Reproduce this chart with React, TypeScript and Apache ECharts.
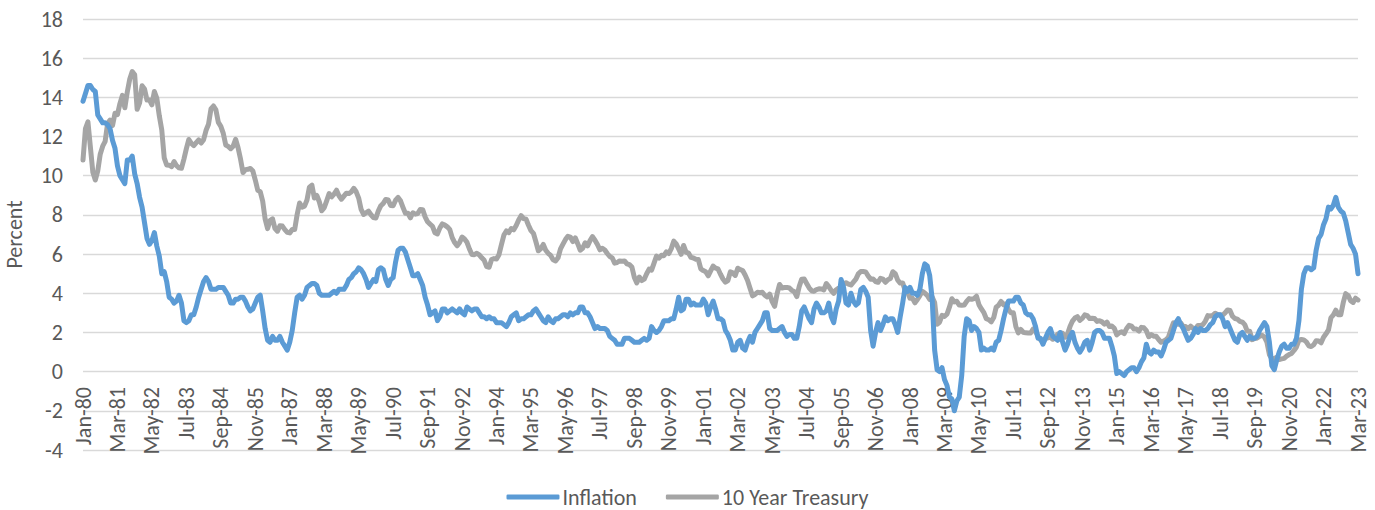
import React, { useEffect, useRef } from "react";
import * as echarts from "echarts";

const MONTHS = ["Jan", "Feb", "Mar", "Apr", "May", "Jun", "Jul", "Aug", "Sep", "Oct", "Nov", "Dec"];
const FIRST_YEAR = 1980;
const LAST_YEAR = 2023;
const LAST_MONTHS = 3;

const categories: string[] = [];
for (let y = FIRST_YEAR; y <= LAST_YEAR; y++) {
  const n = y === LAST_YEAR ? LAST_MONTHS : 12;
  for (let m = 0; m < n; m++) {
    categories.push(`${MONTHS[m]}-${String(y % 100).padStart(2, "0")}`);
  }
}

const Y_TICKS = { min: -4, max: 18, interval: 2 };

// CPI year-over-year inflation, percent (monthly)
const inflation: number[] = [
  13.8, 14.2, 14.6, 14.6, 14.4, 14.3, 13.1, 12.9, 12.7, 12.7, 12.6, 12.4,
  11.8, 11.4, 10.5, 10.0, 9.8, 9.6, 10.8, 10.8, 11.0, 10.1, 9.6, 8.9,
  8.4, 7.6, 6.8, 6.5, 6.7, 7.1, 6.4, 5.9, 5.0, 5.1, 4.6, 3.8,
  3.7, 3.5, 3.6, 3.9, 3.5, 2.6, 2.5, 2.6, 2.9, 2.9, 3.3, 3.8,
  4.2, 4.6, 4.8, 4.6, 4.2, 4.2, 4.2, 4.3, 4.3, 4.3, 4.1, 3.9,
  3.5, 3.5, 3.7, 3.7, 3.8, 3.8, 3.6, 3.3, 3.1, 3.2, 3.5, 3.8,
  3.9, 3.1, 2.2, 1.6, 1.5, 1.8, 1.6, 1.6, 1.8, 1.5, 1.3, 1.1,
  1.5, 2.1, 3.0, 3.8, 3.9, 3.7, 3.9, 4.3, 4.4, 4.5, 4.5, 4.4,
  4.0, 3.9, 3.9, 3.9, 3.9, 4.0, 4.1, 4.0, 4.2, 4.2, 4.2, 4.4,
  4.7, 4.8, 5.0, 5.1, 5.3, 5.2, 5.0, 4.7, 4.3, 4.5, 4.7, 4.6,
  5.2, 5.3, 5.2, 4.7, 4.4, 4.7, 4.8, 5.6, 6.2, 6.3, 6.3, 6.1,
  5.7, 5.3, 4.9, 4.9, 5.0, 4.7, 4.4, 3.8, 3.4, 2.9, 3.0, 3.1,
  2.6, 2.8, 3.2, 3.2, 3.0, 3.1, 3.2, 3.1, 3.0, 3.2, 3.0, 2.9,
  3.3, 3.2, 3.1, 3.2, 3.2, 3.0, 2.8, 2.8, 2.7, 2.8, 2.7, 2.7,
  2.5, 2.5, 2.5, 2.4, 2.3, 2.5, 2.8, 2.9, 3.0, 2.6, 2.7, 2.7,
  2.8, 2.9, 2.9, 3.1, 3.2, 3.0, 2.8, 2.6, 2.5, 2.8, 2.6, 2.5,
  2.7, 2.7, 2.8, 2.9, 2.9, 2.8, 3.0, 2.9, 3.0, 3.0, 3.3, 3.3,
  3.0, 3.0, 2.8, 2.5, 2.2, 2.3, 2.2, 2.2, 2.2, 2.1, 1.8, 1.7,
  1.6, 1.4, 1.4, 1.4, 1.7, 1.7, 1.7, 1.6, 1.5, 1.5, 1.5, 1.6,
  1.7, 1.6, 1.7, 2.3, 2.1, 2.0, 2.1, 2.3, 2.6, 2.6, 2.6, 2.7,
  2.7, 3.2, 3.8, 3.1, 3.2, 3.7, 3.7, 3.4, 3.5, 3.4, 3.4, 3.4,
  3.7, 3.5, 2.9, 3.3, 3.6, 3.2, 2.7, 2.7, 2.6, 2.1, 1.9, 1.6,
  1.1, 1.1, 1.5, 1.6, 1.2, 1.1, 1.5, 1.8, 1.5, 2.0, 2.2, 2.4,
  2.6, 3.0, 3.0, 2.2, 2.1, 2.1, 2.1, 2.2, 2.3, 2.0, 1.8, 1.9,
  1.9, 1.7, 1.7, 2.3, 3.1, 3.3, 3.0, 2.7, 2.5, 3.2, 3.5, 3.3,
  3.0, 3.0, 3.1, 3.5, 2.8, 2.5, 3.2, 3.6, 4.7, 4.3, 3.5, 3.4,
  4.0, 3.6, 3.4, 3.5, 4.2, 4.3, 4.1, 3.8, 2.1, 1.3, 2.0, 2.5,
  2.1, 2.4, 2.8, 2.6, 2.7, 2.7, 2.4, 2.0, 2.8, 3.5, 4.3, 4.1,
  4.3, 4.0, 4.0, 3.9, 4.2, 5.0, 5.5, 5.4, 4.9, 3.7, 1.1, 0.1,
  0.0, 0.2, -0.4, -0.7, -1.3, -1.4, -2.0, -1.5, -1.3, -0.2, 1.8, 2.7,
  2.6, 2.1, 2.3, 2.2, 2.0, 1.1, 1.2, 1.1, 1.1, 1.2, 1.1, 1.5,
  1.6, 2.1, 2.7, 3.2, 3.6, 3.6, 3.6, 3.8, 3.8, 3.5, 3.4, 3.0,
  2.9, 2.9, 2.7, 2.3, 1.7, 1.7, 1.4, 1.7, 2.0, 2.2, 1.8, 1.7,
  1.6, 2.0, 1.5, 1.1, 1.4, 1.8, 2.0, 1.5, 1.2, 1.0, 1.2, 1.5,
  1.6, 1.1, 1.5, 2.0, 2.1, 2.1, 2.0, 1.7, 1.7, 1.7, 1.3, 0.8,
  -0.1, 0.0, -0.1, -0.2, 0.0, 0.1, 0.2, 0.2, 0.0, 0.2, 0.5, 0.7,
  1.4, 1.0, 0.9, 1.1, 1.0, 1.0, 0.8, 1.1, 1.5, 1.6, 1.7, 2.1,
  2.5, 2.7, 2.4, 2.2, 1.9, 1.6, 1.7, 1.9, 2.2, 2.0, 2.2, 2.1,
  2.1, 2.2, 2.4, 2.5, 2.8, 2.9, 2.9, 2.7, 2.3, 2.5, 2.2, 1.9,
  1.6, 1.5, 1.9, 2.0, 1.8, 1.6, 1.8, 1.7, 1.7, 1.8, 2.1, 2.3,
  2.5, 2.3, 1.5, 0.3, 0.1, 0.6, 1.0, 1.3, 1.4, 1.2, 1.2, 1.4,
  1.4, 1.7, 2.6, 4.2, 5.0, 5.3, 5.3, 5.2, 5.3, 6.2, 6.8, 7.0,
  7.5, 7.8, 8.4, 8.3, 8.5, 8.9, 8.4, 8.2, 8.1, 7.7, 7.1, 6.5,
  6.3, 6.0, 5.0,
];

// 10-year Treasury constant maturity yield, percent (monthly average)
const treasury10y: number[] = [
  10.80, 12.41, 12.75, 11.47, 10.18, 9.78, 10.25, 11.10, 11.51, 11.75, 12.68, 12.84,
  12.57, 13.19, 13.12, 13.68, 14.10, 13.47, 14.28, 14.94, 15.32, 15.15, 13.39, 13.72,
  14.59, 14.43, 13.86, 13.87, 13.62, 14.30, 13.95, 13.06, 12.34, 10.91, 10.55, 10.54,
  10.46, 10.72, 10.51, 10.40, 10.38, 10.85, 11.38, 11.85, 11.65, 11.54, 11.69, 11.83,
  11.67, 11.84, 12.32, 12.63, 13.41, 13.56, 13.36, 12.72, 12.52, 12.16, 11.57, 11.50,
  11.38, 11.51, 11.86, 11.43, 10.85, 10.16, 10.31, 10.33, 10.37, 10.24, 9.78, 9.26,
  9.19, 8.70, 7.78, 7.30, 7.71, 7.80, 7.30, 7.17, 7.45, 7.43, 7.25, 7.11,
  7.08, 7.25, 7.25, 8.02, 8.61, 8.40, 8.45, 8.76, 9.42, 9.52, 8.86, 8.99,
  8.67, 8.21, 8.37, 8.72, 9.09, 8.92, 9.06, 9.26, 8.98, 8.80, 8.96, 9.11,
  9.09, 9.17, 9.36, 9.18, 8.86, 8.28, 8.02, 8.11, 8.19, 8.01, 7.87, 7.84,
  8.21, 8.47, 8.59, 8.79, 8.76, 8.48, 8.47, 8.75, 8.89, 8.72, 8.39, 8.08,
  8.09, 7.85, 8.11, 8.04, 8.07, 8.28, 8.27, 7.90, 7.65, 7.53, 7.42, 7.09,
  7.03, 7.34, 7.54, 7.48, 7.39, 7.26, 6.84, 6.59, 6.42, 6.59, 6.87, 6.77,
  6.60, 6.26, 5.98, 5.97, 6.04, 5.96, 5.81, 5.68, 5.36, 5.33, 5.72, 5.77,
  5.75, 5.97, 6.48, 6.97, 7.18, 7.10, 7.30, 7.24, 7.46, 7.74, 7.96, 7.81,
  7.78, 7.47, 7.20, 7.06, 6.63, 6.17, 6.28, 6.49, 6.20, 6.04, 5.93, 5.71,
  5.65, 5.81, 6.27, 6.51, 6.74, 6.91, 6.87, 6.64, 6.83, 6.53, 6.20, 6.30,
  6.58, 6.42, 6.69, 6.89, 6.71, 6.49, 6.22, 6.30, 6.21, 6.03, 5.88, 5.81,
  5.54, 5.57, 5.65, 5.64, 5.65, 5.50, 5.46, 5.34, 4.81, 4.53, 4.83, 4.65,
  4.72, 5.00, 5.23, 5.18, 5.54, 5.90, 5.79, 5.94, 5.92, 6.11, 6.03, 6.28,
  6.66, 6.52, 6.26, 5.99, 6.44, 6.10, 6.05, 5.83, 5.80, 5.74, 5.72, 5.24,
  5.16, 5.10, 4.89, 5.14, 5.39, 5.28, 5.24, 4.97, 4.73, 4.57, 4.65, 5.09,
  5.04, 4.91, 5.28, 5.21, 5.16, 4.93, 4.65, 4.26, 3.87, 3.94, 4.05, 4.03,
  4.05, 3.90, 3.81, 3.96, 3.57, 3.33, 3.98, 4.45, 4.27, 4.29, 4.30, 4.27,
  4.15, 4.08, 3.83, 4.35, 4.72, 4.73, 4.50, 4.28, 4.13, 4.10, 4.19, 4.23,
  4.22, 4.17, 4.50, 4.34, 4.14, 4.00, 4.18, 4.26, 4.20, 4.46, 4.54, 4.47,
  4.42, 4.57, 4.72, 4.99, 5.11, 5.11, 5.09, 4.88, 4.72, 4.73, 4.60, 4.56,
  4.76, 4.72, 4.56, 4.69, 4.75, 5.10, 5.00, 4.67, 4.52, 4.53, 4.15, 4.10,
  3.74, 3.74, 3.51, 3.68, 3.88, 4.10, 4.01, 3.89, 3.69, 3.81, 3.53, 2.42,
  2.52, 2.87, 2.82, 2.93, 3.29, 3.72, 3.56, 3.59, 3.40, 3.39, 3.40, 3.59,
  3.73, 3.69, 3.73, 3.85, 3.42, 3.20, 3.01, 2.70, 2.65, 2.54, 2.76, 3.29,
  3.39, 3.58, 3.41, 3.46, 3.17, 3.00, 3.00, 2.30, 1.98, 2.15, 2.01, 1.98,
  1.97, 1.97, 2.17, 2.05, 1.80, 1.62, 1.53, 1.68, 1.72, 1.75, 1.65, 1.72,
  1.91, 1.98, 1.96, 1.76, 1.93, 2.30, 2.58, 2.74, 2.81, 2.62, 2.72, 2.90,
  2.86, 2.71, 2.72, 2.71, 2.56, 2.60, 2.54, 2.42, 2.53, 2.30, 2.33, 2.21,
  1.88, 1.98, 2.04, 1.94, 2.20, 2.36, 2.32, 2.17, 2.17, 2.07, 2.26, 2.24,
  2.09, 1.78, 1.89, 1.81, 1.81, 1.64, 1.50, 1.56, 1.63, 1.76, 2.14, 2.49,
  2.43, 2.42, 2.48, 2.30, 2.30, 2.19, 2.32, 2.21, 2.20, 2.36, 2.35, 2.40,
  2.58, 2.86, 2.84, 2.87, 2.98, 2.91, 2.89, 2.89, 3.00, 3.15, 3.12, 2.83,
  2.71, 2.68, 2.57, 2.53, 2.40, 2.07, 2.06, 1.63, 1.70, 1.71, 1.81, 1.86,
  1.76, 1.50, 0.87, 0.66, 0.67, 0.73, 0.62, 0.65, 0.68, 0.79, 0.87, 0.93,
  1.08, 1.26, 1.61, 1.64, 1.62, 1.52, 1.32, 1.28, 1.37, 1.58, 1.56, 1.47,
  1.76, 1.93, 2.13, 2.75, 2.90, 3.14, 2.90, 2.90, 3.52, 3.98, 3.89, 3.62,
  3.53, 3.75, 3.66,
];

const FONT = "Carlito, Calibri, Lato, sans-serif";
const TEXT_COLOR = "#595959";
const FONT_SIZE = 22;

export default function App() {
  const ref = useRef<HTMLDivElement>(null);

  useEffect(() => {
    document.body.style.margin = "0";
    if (!ref.current) return;
    const chart = echarts.init(ref.current, undefined, { renderer: "svg" });
    chart.setOption({
      animation: false,
      textStyle: { fontFamily: FONT },
      grid: { left: 83, right: 17, top: 19, bottom: 60, containLabel: false, outerBoundsMode: "none" },
      legend: {
        left: "center",
        top: 481,
        icon: "roundRect",
        itemWidth: 53,
        itemHeight: 5,
        itemGap: 29,
        textStyle: { fontFamily: FONT, fontSize: FONT_SIZE, color: TEXT_COLOR, padding: [0, 0, 0, -2] },
        data: ["Inflation", "10 Year Treasury"],
      },
      xAxis: {
        type: "category",
        data: categories,
        boundaryGap: false,
        axisLine: { show: false, onZero: false },
        axisTick: { show: false },
        splitLine: { show: false },
        axisLabel: {
          interval: 13,
          rotate: 90,
          margin: -63,
          fontFamily: FONT,
          fontSize: FONT_SIZE,
          color: TEXT_COLOR,
        },
      },
      yAxis: {
        type: "value",
        min: Y_TICKS.min,
        max: Y_TICKS.max,
        interval: Y_TICKS.interval,
        name: "Percent",
        nameLocation: "middle",
        nameGap: 58,
        nameTextStyle: { fontFamily: FONT, fontSize: FONT_SIZE, color: TEXT_COLOR },
        axisLine: { show: false },
        axisTick: { show: false },
        axisLabel: { margin: 20, fontFamily: FONT, fontSize: FONT_SIZE, color: TEXT_COLOR },
        splitLine: { lineStyle: { color: "#D9D9D9", width: 1.3 } },
      },
      series: [
        {
          name: "Inflation",
          type: "line",
          data: inflation,
          symbol: "none",
          lineStyle: { color: "#5B9BD5", width: 5, cap: "round", join: "round" },
          itemStyle: { color: "#5B9BD5" },
          z: 3,
        },
        {
          name: "10 Year Treasury",
          type: "line",
          data: treasury10y,
          symbol: "none",
          lineStyle: { color: "#A5A5A5", width: 5, cap: "round", join: "round" },
          itemStyle: { color: "#A5A5A5" },
          z: 2,
        },
      ],
    });
    return () => chart.dispose();
  }, []);

  return <div ref={ref} style={{ width: 1375, height: 510 }} />;
}
